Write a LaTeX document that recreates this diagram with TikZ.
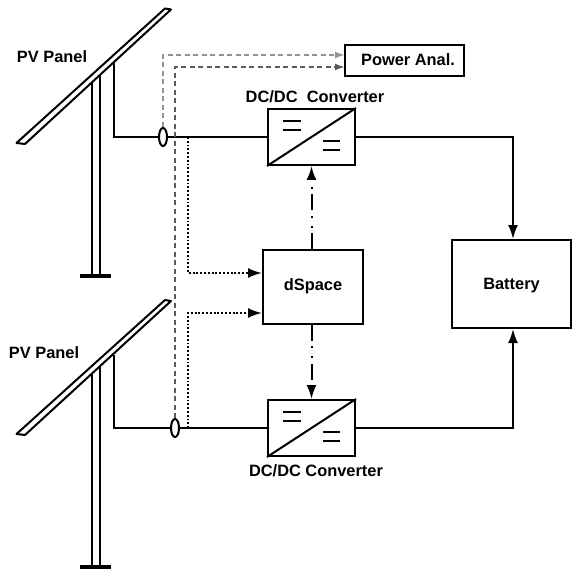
\documentclass[tikz,border=0pt]{standalone}
\usepackage{fontspec}
\setmainfont{Liberation Sans}
\usepackage{xcolor}
\usepackage{tikz}
\usetikzlibrary{arrows.meta,positioning,shapes.geometric}

\begin{document}
\begin{tikzpicture}[
    x=1pt, y=-1pt,
    box/.style={draw, line width=2pt, align=center, font=\fontsize{16.4}{18}\selectfont\bfseries, inner sep=0pt},
    conv/.style={box, minimum width=87pt, minimum height=56pt},
    label/.style={font=\fontsize{16.4}{18}\selectfont\bfseries, inner sep=0pt},
    probe/.style={draw, ellipse, line width=2pt, fill=white, minimum width=8pt, minimum height=18pt, inner sep=0pt},
    wire/.style={line width=2pt},
    panel/.style={line width=2pt, line join=round},
    arrow/.style={wire, -{Latex[length=14pt, width=10pt]}},
    sense/.style={line width=2pt, dash pattern=on 5pt off 3.5pt, -{Latex[length=10pt, width=7pt]}},
    dotline/.style={line width=2pt, dash pattern=on 1.9pt off 1.9pt, -{Latex[length=14pt, width=10pt]}},
    ctrl/.style={line width=2pt, dash pattern=on 16pt off 5pt on 2pt off 8pt on 2pt off 6pt, -{Latex[length=14pt, width=10pt]}}
  ]
    \useasboundingbox (0,0) rectangle (572,569);
    % blocks
    \node[box, minimum width=119pt, minimum height=31pt] (anal) at (404.5,60.5) {\hspace*{7pt}\raisebox{-5pt}[0pt][0pt]{Power Anal.}};
    \node[conv] (convA) at (311.5,137) {};
    \node[conv] (convB) at (311.5,428) {};
    \node[box, minimum width=100pt, minimum height=74pt] (dsp) at (313,287) {\raisebox{-3.5pt}[0pt][0pt]{dSpace}};
    \node[box, minimum width=119pt, minimum height=88pt] (batt) at (511.5,284) {\raisebox{-5.5pt}[0pt][0pt]{Battery}};
    \node[label] (lblA) at (315,97) {DC/DC\ \ Converter};
    \node[label] (lblB) at (316,471) {DC/DC Converter};
    \node[label] (pvA) at (52,57) {PV Panel};
    \node[label] (pvB) at (44,353) {PV Panel};
    % converter symbols
    \draw[wire] (convA.south west) -- (convA.north east);
    \draw[wire] (283,121) -- (301,121) (283,130) -- (301,130);
    \draw[wire] (323,141) -- (340,141) (323,150) -- (340,150);
    \draw[wire] (convB.south west) -- (convB.north east);
    \draw[wire] (283,412) -- (301,412) (283,421) -- (301,421);
    \draw[wire] (323,432) -- (340,432) (323,441) -- (340,441);
    % panels
    \draw[panel] (165,8.5) -- (171,9.5) -- (25,144) -- (16.5,143) -- cycle;
    \draw[panel] (92,83) -- (92,276) (100,76) -- (100,276);
    \draw[panel, line width=3.4pt] (80,276) -- (111,276);
    \draw[panel] (165,300) -- (171,301) -- (25,435) -- (16.5,434) -- cycle;
    \draw[panel] (92,374) -- (92,567) (100,367) -- (100,567);
    \draw[panel, line width=3.4pt] (80,567) -- (111,567);
    % free ends
    \coordinate (tapA) at (114,63);
    \coordinate (tapB) at (114,355);
    \coordinate (dotA) at (188,137);
    \coordinate (dotB) at (188,428);
    \coordinate (anA) at (345,55);
    \coordinate (anB) at (345,67);
    \coordinate (dsA) at (262,273);
    \coordinate (dsB) at (262,313);
    \coordinate (batA) at ([xshift=1.5pt]batt.north);
    \coordinate (batB) at ([xshift=1.5pt]batt.south);
    % wiring
    \draw[wire] (tapA) |- (convA.west);
    \draw[wire] (tapB) |- (convB.west);
    \draw[arrow] (convA.east) -| (batA);
    \draw[arrow] (convB.east) -| (batB);
    \node[probe] (ctA) at (163,137) {};
    \node[probe] (ctB) at (175,428) {};
    \draw[sense, gray!85] (ctA.north) |- (anA);
    \draw[sense, black!65] (ctB.north) |- (anB);
    \draw[dotline] (dotA) |- (dsA);
    \draw[dotline] (dotB) |- (dsB);
    \draw[ctrl] (dsp.north -| convA.south) -- (convA.south);
    \draw[ctrl] (dsp.south -| convB.north) -- (convB.north);
  \end{tikzpicture}
\end{document}
